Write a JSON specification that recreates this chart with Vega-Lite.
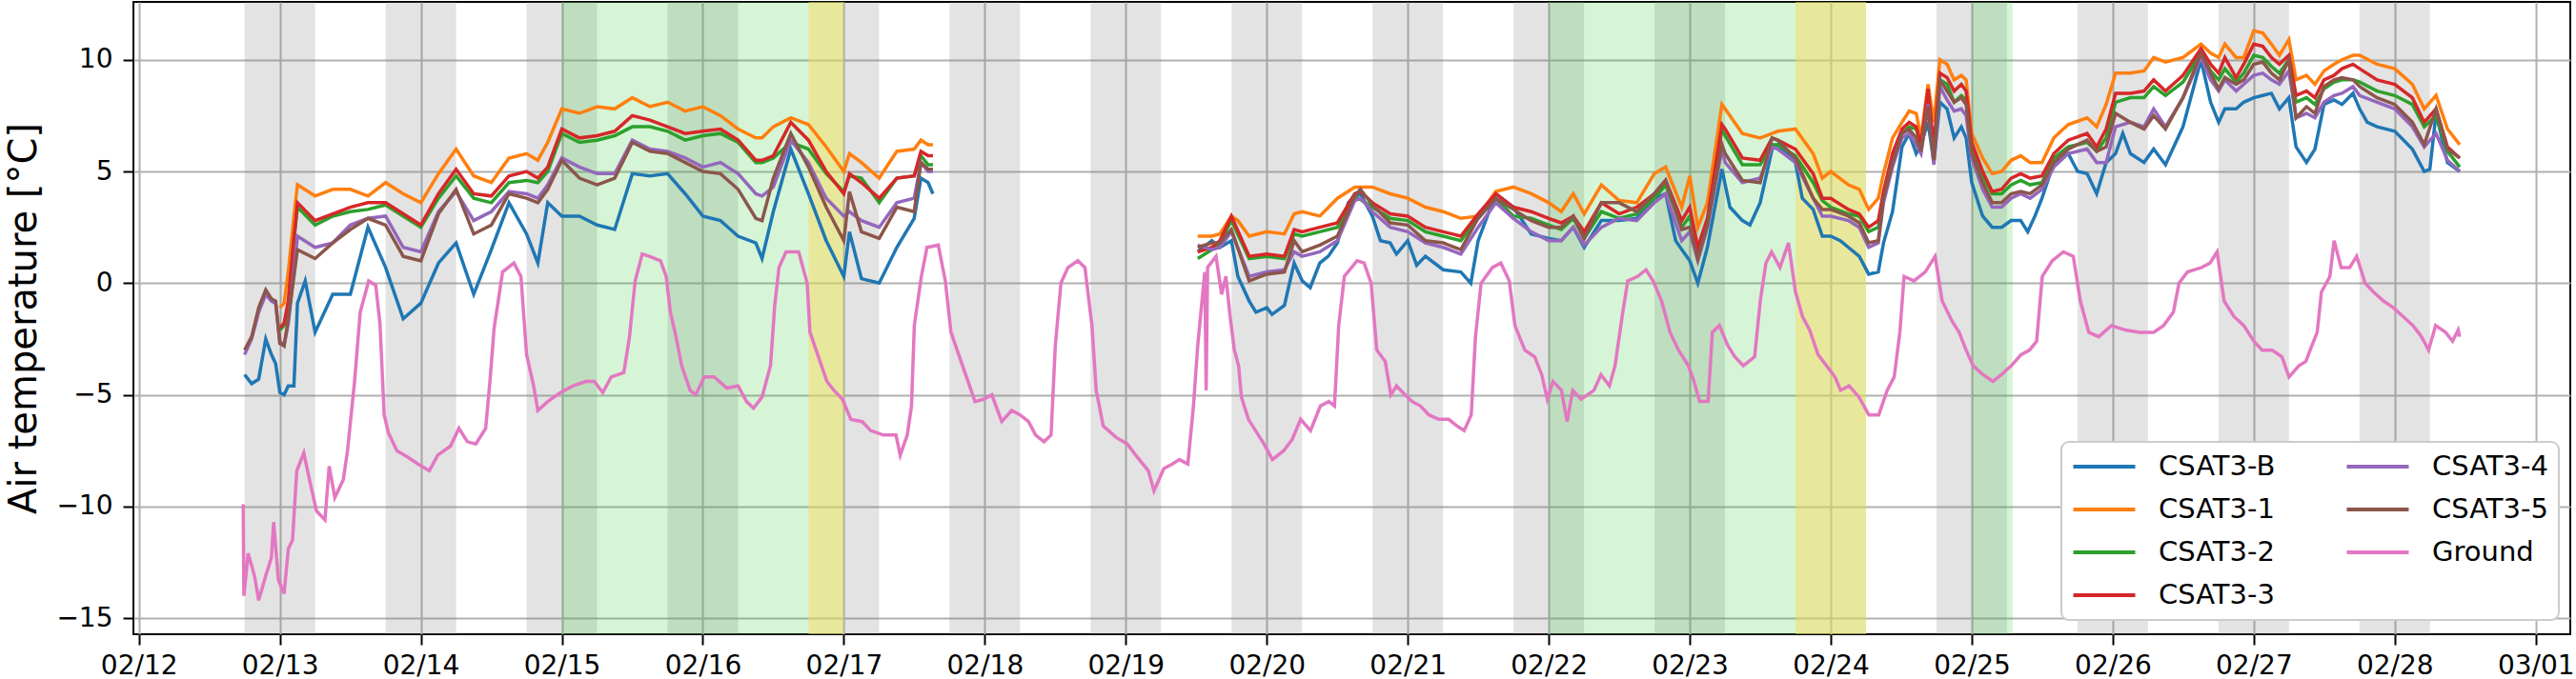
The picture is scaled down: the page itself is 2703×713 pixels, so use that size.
{
  "$schema": "https://vega.github.io/schema/vega-lite/v6.json",
  "width": 2557,
  "height": 664,
  "autosize": {"type": "none"},
  "padding": {"left": 140, "top": 2, "right": 6, "bottom": 47},
  "background": "white",
  "config": {
    "font": "DejaVu Sans",
    "view": {"stroke": "black", "strokeWidth": 2},
    "mark": {"invalid": "filter"},
    "axis": {
      "domain": false,
      "grid": true,
      "gridColor": "#b0b0b0",
      "gridWidth": 2,
      "tickColor": "black",
      "tickWidth": 2,
      "tickSize": 11,
      "labelFont": "DejaVu Sans",
      "labelFontSize": 28,
      "labelColor": "black",
      "titleFont": "DejaVu Sans",
      "titleFontSize": 40,
      "titleFontWeight": "normal",
      "titleColor": "black"
    },
    "legend": {
      "orient": "none",
      "legendX": 2023,
      "legendY": 462,
      "columns": 2,
      "fillColor": "white",
      "strokeColor": "#cccccc",
      "strokeWidth": 2,
      "cornerRadius": 8,
      "padding": 11,
      "labelFont": "DejaVu Sans",
      "labelFontSize": 29,
      "labelColor": "black",
      "symbolType": "M-2.5,0H2.5",
      "symbolSize": 676,
      "symbolStrokeWidth": 4,
      "symbolOffset": 19,
      "labelOffset": 42,
      "rowPadding": 15,
      "columnPadding": 66
    }
  },
  "datasets": {
    "night": [
      {"t": 12.75, "t2": 13.25}, {"t": 13.75, "t2": 14.25}, {"t": 14.75, "t2": 15.25}, {"t": 15.75, "t2": 16.25},
      {"t": 16.75, "t2": 17.25}, {"t": 17.75, "t2": 18.25}, {"t": 18.75, "t2": 19.25}, {"t": 19.75, "t2": 20.25},
      {"t": 20.75, "t2": 21.25}, {"t": 21.75, "t2": 22.25}, {"t": 22.75, "t2": 23.25}, {"t": 23.75, "t2": 24.25},
      {"t": 24.75, "t2": 25.25}, {"t": 25.75, "t2": 26.25}, {"t": 26.75, "t2": 27.25}, {"t": 27.75, "t2": 28.25}
    ],
    "green": [
      {"t": 15.0, "t2": 16.75}, {"t": 22.0, "t2": 23.75}, {"t": 25.0, "t2": 25.29}
    ],
    "yellow": [
      {"t": 16.75, "t2": 17.0}, {"t": 23.75, "t2": 24.25}
    ],
    "air": [
      {"t": 12.75, "g": 1, "b": -4.1, "s4": -3.2, "s5": -3.0},
      {"t": 12.8, "g": 1, "b": -4.5, "s4": -2.5, "s5": -2.4},
      {"t": 12.85, "g": 1, "b": -4.3, "s4": -1.3, "s5": -1.1},
      {"t": 12.9, "g": 1, "b": -2.5, "s4": -0.5, "s5": -0.3},
      {"t": 12.94, "g": 1, "b": -3.2, "s4": -0.8, "s5": -0.7},
      {"t": 12.97, "g": 1, "b": -3.6, "s4": -0.9, "s5": -0.8},
      {"t": 13.0, "g": 1, "b": -4.9, "s1": -1.1, "s2": -2.1, "s3": -2.0, "s4": -2.6, "s5": -2.7},
      {"t": 13.03, "g": 1, "b": -5.0, "s1": -0.9, "s2": -1.9, "s3": -1.8, "s4": -2.8, "s5": -2.8},
      {"t": 13.06, "g": 1, "b": -4.6, "s1": 0.5, "s2": -1.0, "s3": -0.8, "s4": -1.8, "s5": -1.6},
      {"t": 13.1, "g": 1, "b": -4.6, "s1": 3.0, "s2": 1.9, "s3": 2.0, "s4": 0.6, "s5": 0.3},
      {"t": 13.125, "g": 1, "b": -0.9, "s1": 4.4, "s2": 3.4, "s3": 3.6, "s4": 2.1, "s5": 1.5},
      {"t": 13.18, "g": 1, "b": 0.1},
      {"t": 13.25, "g": 1, "b": -2.2, "s1": 3.9, "s2": 2.6, "s3": 2.8, "s4": 1.6, "s5": 1.1},
      {"t": 13.375, "g": 1, "b": -0.5, "s1": 4.2, "s2": 3.0, "s3": 3.1, "s4": 1.8, "s5": 1.8},
      {"t": 13.5, "g": 1, "b": -0.5, "s1": 4.2, "s2": 3.2, "s3": 3.4, "s4": 2.6, "s5": 2.4},
      {"t": 13.625, "g": 1, "b": 2.5, "s1": 3.9, "s2": 3.3, "s3": 3.6, "s4": 2.9, "s5": 2.9},
      {"t": 13.75, "g": 1, "b": 0.7, "s1": 4.5, "s2": 3.5, "s3": 3.6, "s4": 3.0, "s5": 2.6},
      {"t": 13.875, "g": 1, "b": -1.6, "s1": 4.0, "s2": 3.0, "s3": 3.1, "s4": 1.6, "s5": 1.2},
      {"t": 14.0, "g": 1, "b": -0.9, "s1": 3.6, "s2": 2.5, "s3": 2.6, "s4": 1.4, "s5": 1.0},
      {"t": 14.125, "g": 1, "b": 0.9, "s1": 4.9, "s2": 3.8, "s3": 4.0, "s4": 3.2, "s5": 3.1},
      {"t": 14.25, "g": 1, "b": 1.8, "s1": 6.0, "s2": 4.8, "s3": 5.1, "s4": 4.1, "s5": 4.2},
      {"t": 14.375, "g": 1, "b": -0.5, "s1": 4.8, "s2": 3.8, "s3": 4.0, "s4": 2.8, "s5": 2.2},
      {"t": 14.5, "g": 1, "b": 1.5, "s1": 4.5, "s2": 3.6, "s3": 3.9, "s4": 3.2, "s5": 2.6},
      {"t": 14.625, "g": 1, "b": 3.6, "s1": 5.6, "s2": 4.5, "s3": 4.8, "s4": 4.1, "s5": 4.0},
      {"t": 14.75, "g": 1, "b": 2.2, "s1": 5.8, "s2": 4.6, "s3": 5.0, "s4": 4.0, "s5": 3.8},
      {"t": 14.83, "g": 1, "b": 0.9, "s1": 5.5, "s2": 4.5, "s3": 4.7, "s4": 3.8, "s5": 3.6},
      {"t": 14.9, "g": 1, "b": 3.6, "s1": 6.3, "s2": 5.0, "s3": 5.2, "s4": 4.4, "s5": 4.2},
      {"t": 15.0, "g": 1, "b": 3.0, "s1": 7.8, "s2": 6.7, "s3": 6.9, "s4": 5.6, "s5": 5.5},
      {"t": 15.125, "g": 1, "b": 3.0, "s1": 7.6, "s2": 6.3, "s3": 6.5, "s4": 5.2, "s5": 4.7},
      {"t": 15.25, "g": 1, "b": 2.6, "s1": 7.9, "s2": 6.4, "s3": 6.6, "s4": 4.9, "s5": 4.4},
      {"t": 15.375, "g": 1, "b": 2.4, "s1": 7.8, "s2": 6.6, "s3": 6.8, "s4": 4.9, "s5": 4.7},
      {"t": 15.5, "g": 1, "b": 4.9, "s1": 8.3, "s2": 7.0, "s3": 7.5, "s4": 6.4, "s5": 6.3},
      {"t": 15.625, "g": 1, "b": 4.8, "s1": 7.9, "s2": 7.0, "s3": 7.3, "s4": 6.0, "s5": 5.9},
      {"t": 15.75, "g": 1, "b": 4.9, "s1": 8.1, "s2": 6.8, "s3": 7.0, "s4": 5.9, "s5": 5.8},
      {"t": 15.875, "g": 1, "b": 4.0, "s1": 7.7, "s2": 6.4, "s3": 6.7, "s4": 5.6, "s5": 5.4},
      {"t": 16.0, "g": 1, "b": 3.0, "s1": 7.9, "s2": 6.6, "s3": 6.8, "s4": 5.2, "s5": 5.0},
      {"t": 16.125, "g": 1, "b": 2.8, "s1": 7.5, "s2": 6.7, "s3": 6.9, "s4": 5.4, "s5": 4.9},
      {"t": 16.25, "g": 1, "b": 2.1, "s1": 6.9, "s2": 6.3, "s3": 6.4, "s4": 4.9, "s5": 4.2},
      {"t": 16.376, "g": 1, "b": 1.8, "s1": 6.5, "s2": 5.4, "s3": 5.5, "s4": 4.0, "s5": 2.9},
      {"t": 16.42, "g": 1, "b": 1.1, "s1": 6.5, "s2": 5.4, "s3": 5.5, "s4": 3.9, "s5": 2.8},
      {"t": 16.5, "g": 1, "b": 3.2, "s1": 7.0, "s2": 5.6, "s3": 5.7, "s4": 4.3, "s5": 4.7},
      {"t": 16.624, "g": 1, "b": 6.0, "s1": 7.4, "s2": 6.3, "s3": 7.2, "s4": 6.4, "s5": 6.7},
      {"t": 16.749, "g": 1, "b": 4.0, "s1": 7.1, "s2": 6.0, "s3": 6.4, "s4": 5.4, "s5": 5.2},
      {"t": 16.875, "g": 1, "b": 1.9, "s1": 6.1, "s2": 4.9, "s3": 5.0, "s4": 3.8, "s5": 3.4},
      {"t": 17.0, "g": 1, "b": 0.3, "s1": 5.0, "s2": 4.1, "s3": 4.0, "s4": 3.0, "s5": 1.9},
      {"t": 17.04, "g": 1, "b": 2.3, "s1": 5.8, "s2": 4.8, "s3": 4.9, "s4": 3.2, "s5": 4.1},
      {"t": 17.125, "g": 1, "b": 0.2, "s1": 5.4, "s2": 4.7, "s3": 4.5, "s4": 2.8, "s5": 2.3},
      {"t": 17.251, "g": 1, "b": 0.0, "s1": 4.7, "s2": 3.6, "s3": 3.8, "s4": 2.5, "s5": 2.0},
      {"t": 17.376, "g": 1, "b": 1.6, "s1": 5.9, "s2": 4.7, "s3": 4.7, "s4": 3.6, "s5": 3.4},
      {"t": 17.499, "g": 1, "b": 2.9, "s1": 6.0, "s2": 4.8, "s3": 4.8, "s4": 3.8, "s5": 3.2},
      {"t": 17.547, "g": 1, "b": 4.7, "s1": 6.4, "s2": 5.7, "s3": 5.9, "s4": 5.4, "s5": 5.4},
      {"t": 17.598, "g": 1, "b": 4.5, "s1": 6.2, "s2": 5.3, "s3": 5.7, "s4": 5.0, "s5": 5.1},
      {"t": 17.632, "g": 1, "b": 4.0, "s1": 6.2, "s2": 5.3, "s3": 5.7, "s4": 5.0, "s5": 5.1},
      {"t": 19.51, "g": 2, "b": 1.4, "s1": 2.1, "s2": 1.1, "s3": 1.4, "s4": 1.7, "s5": 1.6},
      {"t": 19.61, "g": 2, "b": 1.9, "s1": 2.1, "s2": 1.5, "s3": 1.6, "s4": 1.5, "s5": 1.8},
      {"t": 19.667, "g": 2, "b": 1.6, "s1": 2.2, "s2": 1.8, "s3": 1.9, "s4": 1.6, "s5": 1.8},
      {"t": 19.749, "g": 2, "b": 1.9, "s1": 3.0, "s2": 2.8, "s3": 3.0, "s4": 2.3, "s5": 2.4},
      {"t": 19.795, "g": 2, "b": 0.3, "s1": 2.8},
      {"t": 19.875, "g": 2, "b": -0.8, "s1": 2.1, "s2": 1.1, "s3": 1.2, "s4": 0.3, "s5": 0.1},
      {"t": 19.923, "g": 2, "b": -1.3},
      {"t": 20.0, "g": 2, "b": -1.1, "s1": 2.3, "s2": 1.2, "s3": 1.3, "s4": 0.5, "s5": 0.4},
      {"t": 20.037, "g": 2, "b": -1.4},
      {"t": 20.125, "g": 2, "b": -1.0, "s1": 2.2, "s2": 1.1, "s3": 1.2, "s4": 0.6, "s5": 0.5},
      {"t": 20.194, "g": 2, "b": 0.9, "s1": 3.1, "s2": 2.2, "s3": 2.4, "s4": 1.4, "s5": 1.9},
      {"t": 20.251, "g": 2, "b": 0.1, "s1": 3.2, "s2": 2.1, "s3": 2.3, "s4": 1.2, "s5": 1.4},
      {"t": 20.308, "g": 2, "b": -0.2},
      {"t": 20.376, "g": 2, "b": 0.9, "s1": 3.0, "s2": 2.3, "s3": 2.5, "s4": 1.4, "s5": 1.7},
      {"t": 20.436, "g": 2, "b": 1.2},
      {"t": 20.501, "g": 2, "b": 1.8, "s1": 3.8, "s2": 2.5, "s3": 2.7, "s4": 1.9, "s5": 2.1},
      {"t": 20.578, "g": 2, "b": 3.6},
      {"t": 20.624, "g": 2, "b": 3.9, "s1": 4.3, "s2": 3.9, "s3": 4.0, "s4": 3.7, "s5": 3.9},
      {"t": 20.664, "g": 2, "b": 4.0, "s3": 4.1, "s4": 3.8, "s5": 4.2},
      {"t": 20.749, "g": 2, "b": 3.0, "s1": 4.3, "s2": 3.4, "s3": 3.6, "s4": 3.2, "s5": 3.5},
      {"t": 20.806, "g": 2, "b": 1.9},
      {"t": 20.875, "g": 2, "b": 1.8, "s1": 4.0, "s2": 2.9, "s3": 3.1, "s4": 2.5, "s5": 2.7},
      {"t": 20.92, "g": 2, "b": 1.3},
      {"t": 21.0, "g": 2, "b": 1.9, "s1": 3.8, "s2": 2.8, "s3": 3.0, "s4": 2.3, "s5": 2.6},
      {"t": 21.063, "g": 2, "b": 0.8},
      {"t": 21.125, "g": 2, "b": 1.2, "s1": 3.4, "s2": 2.3, "s3": 2.5, "s4": 1.8, "s5": 1.9},
      {"t": 21.251, "g": 2, "b": 0.6, "s1": 3.2, "s2": 2.1, "s3": 2.3, "s4": 1.6, "s5": 1.8},
      {"t": 21.376, "g": 2, "b": 0.5, "s1": 2.9, "s2": 1.9, "s3": 2.1, "s4": 1.3, "s5": 1.5},
      {"t": 21.447, "g": 2, "b": 0.0},
      {"t": 21.499, "g": 2, "b": 1.9, "s1": 3.0, "s2": 2.9, "s3": 3.1, "s4": 2.5, "s5": 2.9},
      {"t": 21.624, "g": 2, "b": 4.0, "s1": 4.1, "s2": 3.8, "s3": 4.0, "s4": 3.6, "s5": 3.8},
      {"t": 21.749, "g": 2, "b": 3.4, "s1": 4.3, "s2": 3.0, "s3": 3.4, "s4": 2.9, "s5": 3.3},
      {"t": 21.875, "g": 2, "b": 2.2, "s1": 4.0, "s2": 2.9, "s3": 3.2, "s4": 2.3, "s5": 2.8},
      {"t": 22.0, "g": 2, "b": 2.0, "s1": 3.6, "s2": 2.6, "s3": 2.9, "s4": 1.9, "s5": 2.5},
      {"t": 22.088, "g": 2, "b": 1.9, "s1": 3.2, "s2": 2.4, "s3": 2.7, "s4": 1.9, "s5": 2.5},
      {"t": 22.174, "g": 2, "b": 2.5, "s1": 4.0, "s2": 2.9, "s3": 3.0, "s4": 2.5, "s5": 3.0},
      {"t": 22.251, "g": 2, "b": 1.6, "s1": 3.1, "s2": 2.0, "s3": 2.3, "s4": 1.7, "s5": 2.0},
      {"t": 22.373, "g": 2, "b": 2.8, "s1": 4.4, "s2": 3.2, "s3": 3.6, "s4": 2.5, "s5": 3.6},
      {"t": 22.499, "g": 2, "b": 2.8, "s1": 3.7, "s2": 2.9, "s3": 3.1, "s4": 2.9, "s5": 3.6},
      {"t": 22.624, "g": 2, "b": 2.9, "s1": 3.6, "s2": 3.1, "s3": 3.4, "s4": 2.8, "s5": 3.2},
      {"t": 22.749, "g": 2, "b": 3.8, "s1": 4.9, "s2": 3.8, "s3": 4.0, "s4": 3.6, "s5": 4.0},
      {"t": 22.829, "g": 2, "b": 4.0, "s1": 5.2, "s2": 4.4, "s3": 4.6, "s4": 4.0, "s5": 4.6},
      {"t": 22.9, "g": 2, "b": 1.9},
      {"t": 22.943, "g": 2, "b": 1.5, "s1": 3.4, "s2": 2.5, "s3": 2.8, "s4": 1.9, "s5": 2.4},
      {"t": 23.0, "g": 2, "b": 1.0, "s1": 4.8, "s2": 3.0, "s3": 3.4, "s4": 2.3, "s5": 2.5},
      {"t": 23.057, "g": 2, "b": 0.0, "s1": 2.5, "s2": 1.4, "s3": 1.6, "s4": 1.0, "s5": 1.1},
      {"t": 23.125, "g": 2, "b": 1.6, "s1": 3.6, "s2": 2.7, "s3": 2.9, "s4": 2.5, "s5": 2.6},
      {"t": 23.228, "g": 2, "b": 5.1, "s1": 8.0, "s2": 6.9, "s3": 7.1, "s4": 6.0, "s5": 6.2},
      {"t": 23.251, "g": 2, "s1": 7.8, "s2": 6.6, "s3": 6.9, "s4": 5.4, "s5": 5.8},
      {"t": 23.285, "g": 2, "b": 3.4},
      {"t": 23.373, "g": 2, "b": 2.8, "s1": 6.7, "s2": 5.3, "s3": 5.6, "s4": 4.5, "s5": 4.6},
      {"t": 23.427, "g": 2, "b": 2.6},
      {"t": 23.499, "g": 2, "b": 3.6, "s1": 6.5, "s2": 5.3, "s3": 5.5, "s4": 4.7, "s5": 4.5},
      {"t": 23.584, "g": 2, "b": 6.0, "s1": 6.7, "s2": 6.2, "s3": 6.5, "s4": 6.1, "s5": 6.5},
      {"t": 23.624, "g": 2, "b": 6.2, "s1": 6.8, "s2": 6.2, "s3": 6.4, "s4": 6.0, "s5": 6.4},
      {"t": 23.749, "g": 2, "b": 5.4, "s1": 6.9, "s2": 5.7, "s3": 6.0, "s4": 5.4, "s5": 5.6},
      {"t": 23.798, "g": 2, "b": 3.8},
      {"t": 23.875, "g": 2, "b": 3.3, "s1": 5.8, "s2": 4.5, "s3": 4.9, "s4": 3.8, "s5": 3.8},
      {"t": 23.94, "g": 2, "b": 2.1, "s1": 4.7, "s2": 3.7, "s3": 3.8, "s4": 3.0, "s5": 3.3},
      {"t": 24.0, "g": 2, "b": 2.1, "s1": 5.0, "s2": 3.4, "s3": 3.8, "s4": 3.0, "s5": 3.3},
      {"t": 24.067, "g": 2, "b": 1.9},
      {"t": 24.125, "g": 2, "b": 1.6, "s1": 4.4, "s2": 3.1, "s3": 3.3, "s4": 2.8, "s5": 3.0},
      {"t": 24.202, "g": 2, "b": 1.2, "s1": 4.2, "s2": 3.0, "s3": 3.1, "s4": 2.5, "s5": 2.7},
      {"t": 24.269, "g": 2, "b": 0.4, "s1": 3.3, "s2": 2.3, "s3": 2.5, "s4": 1.6, "s5": 1.8},
      {"t": 24.337, "g": 2, "b": 0.5, "s1": 3.8, "s2": 2.5, "s3": 2.8, "s4": 1.8, "s5": 1.9},
      {"t": 24.374, "g": 2, "b": 1.8, "s1": 4.9, "s2": 4.0, "s3": 4.1, "s4": 3.6, "s5": 3.8},
      {"t": 24.438, "g": 2, "b": 3.2, "s1": 6.5, "s2": 5.6, "s3": 5.8, "s4": 5.2, "s5": 5.4},
      {"t": 24.505, "g": 2, "b": 6.1, "s1": 7.2, "s2": 6.7, "s3": 6.9, "s4": 6.5, "s5": 6.7},
      {"t": 24.556, "g": 2, "b": 6.7, "s1": 7.7, "s2": 7.0, "s3": 7.2, "s4": 6.7, "s5": 6.9},
      {"t": 24.606, "g": 2, "b": 5.8, "s1": 7.6, "s2": 6.9, "s3": 7.0, "s4": 6.2, "s5": 6.5},
      {"t": 24.64, "g": 2, "b": 6.2, "s1": 6.5, "s2": 6.1, "s3": 6.2, "s4": 5.8, "s5": 5.9},
      {"t": 24.69, "g": 2, "b": 7.2, "s1": 8.9, "s2": 8.5, "s3": 8.7, "s4": 8.0, "s5": 7.9},
      {"t": 24.731, "g": 2, "b": 5.4, "s1": 7.2, "s2": 5.8, "s3": 6.1, "s4": 5.3, "s5": 5.5},
      {"t": 24.774, "g": 2, "b": 8.1, "s1": 10.0, "s2": 9.1, "s3": 9.4, "s4": 8.8, "s5": 9.1},
      {"t": 24.825, "g": 2, "b": 7.8, "s1": 9.8, "s2": 8.9, "s3": 9.2, "s4": 8.2, "s5": 8.6},
      {"t": 24.875, "g": 2, "b": 6.5, "s1": 9.1, "s2": 8.1, "s3": 8.6, "s4": 7.7, "s5": 8.1},
      {"t": 24.926, "g": 2, "b": 7.0, "s1": 9.3, "s2": 8.4, "s3": 8.9, "s4": 7.8, "s5": 8.3},
      {"t": 24.96, "g": 2, "b": 6.5, "s1": 9.1, "s2": 8.2, "s3": 8.6, "s4": 7.5, "s5": 8.0},
      {"t": 25.0, "g": 2, "b": 4.5, "s1": 6.7, "s2": 6.1, "s3": 6.3, "s4": 5.6, "s5": 5.8},
      {"t": 25.077, "g": 2, "b": 3.0, "s1": 5.6, "s2": 4.8, "s3": 5.0, "s4": 4.2, "s5": 4.5},
      {"t": 25.145, "g": 2, "b": 2.5, "s1": 4.9, "s2": 4.0, "s3": 4.1, "s4": 3.4, "s5": 3.6},
      {"t": 25.212, "g": 2, "b": 2.5, "s1": 5.0, "s2": 4.0, "s3": 4.2, "s4": 3.4, "s5": 3.6},
      {"t": 25.279, "g": 2, "b": 2.8, "s1": 5.5, "s2": 4.4, "s3": 4.7, "s4": 3.8, "s5": 4.0},
      {"t": 25.347, "g": 2, "b": 2.8, "s1": 5.7, "s2": 4.6, "s3": 4.9, "s4": 4.0, "s5": 4.1},
      {"t": 25.397, "g": 2, "b": 2.3},
      {"t": 25.414, "g": 2, "s1": 5.4, "s2": 4.4, "s3": 4.7, "s4": 3.8, "s5": 4.0},
      {"t": 25.448, "g": 2, "b": 3.0},
      {"t": 25.498, "g": 2, "b": 3.8, "s1": 5.4, "s2": 4.5, "s3": 4.8, "s4": 4.2, "s5": 4.4},
      {"t": 25.582, "g": 2, "b": 5.4, "s1": 6.5, "s2": 5.6, "s3": 5.8, "s4": 5.2, "s5": 5.4},
      {"t": 25.684, "g": 2, "b": 5.8, "s1": 7.1, "s2": 6.1, "s3": 6.4, "s4": 5.8, "s5": 6.0},
      {"t": 25.751, "g": 2, "b": 5.0},
      {"t": 25.818, "g": 2, "b": 4.9, "s1": 7.4, "s2": 6.3, "s3": 6.7, "s4": 6.0, "s5": 6.4},
      {"t": 25.886, "g": 2, "b": 4.0, "s1": 7.0, "s2": 5.9, "s3": 6.1, "s4": 5.4, "s5": 5.9},
      {"t": 25.953, "g": 2, "b": 5.4, "s1": 8.0, "s2": 6.5, "s3": 6.9, "s4": 5.4, "s5": 6.1},
      {"t": 26.02, "g": 2, "b": 5.8, "s1": 9.4, "s2": 8.1, "s3": 8.5, "s4": 7.0, "s5": 7.6},
      {"t": 26.071, "g": 2, "b": 6.7},
      {"t": 26.125, "g": 2, "b": 5.8, "s1": 9.4, "s2": 8.3, "s3": 8.5, "s4": 7.2, "s5": 7.2},
      {"t": 26.222, "g": 2, "b": 5.4, "s1": 9.5, "s2": 8.3, "s3": 8.6, "s4": 7.0, "s5": 6.9},
      {"t": 26.29, "g": 2, "b": 6.0, "s1": 10.1, "s2": 8.8, "s3": 9.1, "s4": 7.8, "s5": 7.5},
      {"t": 26.374, "g": 2, "b": 5.3, "s1": 9.9, "s2": 8.4, "s3": 8.6, "s4": 7.0, "s5": 6.9},
      {"t": 26.498, "g": 2, "b": 7.0, "s1": 10.1, "s2": 9.0, "s3": 9.3, "s4": 8.3, "s5": 8.3},
      {"t": 26.626, "g": 2, "b": 10.0, "s1": 10.7, "s2": 10.3, "s3": 10.5, "s4": 10.1, "s5": 10.3},
      {"t": 26.694, "g": 2, "b": 8.1, "s1": 10.3, "s2": 9.5, "s3": 9.8, "s4": 9.1, "s5": 9.4},
      {"t": 26.751, "g": 2, "b": 7.2, "s1": 10.1, "s2": 9.1, "s3": 9.4, "s4": 8.6, "s5": 8.7},
      {"t": 26.795, "g": 2, "b": 7.8, "s1": 10.7, "s2": 9.6, "s3": 10.1, "s4": 9.1, "s5": 9.2},
      {"t": 26.875, "g": 2, "b": 7.8, "s1": 10.1, "s2": 9.0, "s3": 9.2, "s4": 8.6, "s5": 8.9},
      {"t": 26.929, "g": 2, "b": 8.1, "s1": 10.1, "s2": 9.4, "s3": 9.8, "s4": 8.9, "s5": 9.1},
      {"t": 27.0, "g": 2, "b": 8.3, "s1": 11.3, "s2": 10.2, "s3": 10.7, "s4": 9.3, "s5": 9.8},
      {"t": 27.064, "g": 2, "b": 8.4, "s1": 11.2, "s2": 10.1, "s3": 10.6, "s4": 9.4, "s5": 9.9},
      {"t": 27.125, "g": 2, "b": 8.5, "s1": 10.7, "s2": 9.7, "s3": 10.1, "s4": 9.1, "s5": 9.4},
      {"t": 27.182, "g": 2, "b": 7.8, "s1": 10.2, "s2": 9.4, "s3": 9.8, "s4": 8.9, "s5": 9.1},
      {"t": 27.249, "g": 2, "b": 8.3, "s1": 10.9, "s2": 10.0, "s3": 10.2, "s4": 9.5, "s5": 10.0},
      {"t": 27.3, "g": 2, "b": 6.1, "s1": 9.1, "s2": 8.1, "s3": 8.4, "s4": 7.4, "s5": 7.4},
      {"t": 27.374, "g": 2, "b": 5.4, "s1": 9.3, "s2": 8.3, "s3": 8.6, "s4": 7.6, "s5": 7.9},
      {"t": 27.434, "g": 2, "b": 6.0, "s1": 8.9, "s2": 8.0, "s3": 8.3, "s4": 7.4, "s5": 7.6},
      {"t": 27.498, "g": 2, "b": 8.0, "s1": 9.5, "s2": 8.7, "s3": 9.1, "s4": 8.1, "s5": 8.8},
      {"t": 27.569, "g": 2, "b": 8.2, "s1": 9.8, "s2": 9.0, "s3": 9.3, "s4": 8.4, "s5": 9.1},
      {"t": 27.626, "g": 2, "b": 8.0, "s1": 10.0, "s2": 9.1, "s3": 9.6, "s4": 8.5, "s5": 9.2},
      {"t": 27.704, "g": 2, "b": 8.5, "s1": 10.2, "s2": 9.1, "s3": 9.8, "s4": 8.8, "s5": 9.1},
      {"t": 27.751, "g": 2, "b": 7.8, "s1": 10.2, "s2": 9.0, "s3": 9.6, "s4": 8.4, "s5": 8.8},
      {"t": 27.805, "g": 2, "b": 7.2},
      {"t": 27.875, "g": 2, "b": 7.0, "s1": 9.8, "s2": 8.6, "s3": 9.1, "s4": 8.1, "s5": 8.3},
      {"t": 28.0, "g": 2, "b": 6.8, "s1": 9.6, "s2": 8.4, "s3": 8.9, "s4": 7.8, "s5": 8.0},
      {"t": 28.125, "g": 2, "b": 6.0, "s1": 8.9, "s2": 8.0, "s3": 8.3, "s4": 7.0, "s5": 7.2},
      {"t": 28.209, "g": 2, "b": 5.0, "s1": 7.8, "s2": 7.0, "s3": 7.2, "s4": 6.1, "s5": 6.2},
      {"t": 28.249, "g": 2, "b": 5.1},
      {"t": 28.293, "g": 2, "b": 7.6, "s1": 8.4, "s2": 7.5, "s3": 7.8, "s4": 6.7, "s5": 7.8},
      {"t": 28.374, "g": 2, "b": 5.4, "s1": 6.9, "s2": 5.9, "s3": 6.1, "s4": 5.5, "s5": 6.0},
      {"t": 28.461, "g": 2, "b": 5.0, "s1": 6.2, "s2": 5.2, "s3": 5.6, "s4": 5.0, "s5": 5.6}
    ],
    "ground": [
      {"t": 12.74, "v": -9.9}, {"t": 12.745, "v": -14.0}, {"t": 12.775, "v": -12.1}, {"t": 12.82, "v": -13.1},
      {"t": 12.85, "v": -14.2}, {"t": 12.9, "v": -13.1}, {"t": 12.94, "v": -12.3}, {"t": 12.956, "v": -10.7},
      {"t": 12.99, "v": -13.3}, {"t": 13.03, "v": -13.9}, {"t": 13.06, "v": -11.9}, {"t": 13.09, "v": -11.5},
      {"t": 13.12, "v": -8.4}, {"t": 13.17, "v": -7.6}, {"t": 13.21, "v": -8.8}, {"t": 13.26, "v": -10.2},
      {"t": 13.32, "v": -10.6}, {"t": 13.35, "v": -8.2}, {"t": 13.39, "v": -9.6}, {"t": 13.45, "v": -8.8},
      {"t": 13.48, "v": -7.5}, {"t": 13.53, "v": -4.4}, {"t": 13.57, "v": -1.3}, {"t": 13.63, "v": 0.1},
      {"t": 13.68, "v": -0.1}, {"t": 13.71, "v": -1.8}, {"t": 13.74, "v": -5.9}, {"t": 13.77, "v": -6.7},
      {"t": 13.83, "v": -7.5}, {"t": 13.91, "v": -7.8}, {"t": 13.98, "v": -8.1}, {"t": 14.06, "v": -8.4},
      {"t": 14.12, "v": -7.7}, {"t": 14.21, "v": -7.3}, {"t": 14.27, "v": -6.5}, {"t": 14.33, "v": -7.1},
      {"t": 14.39, "v": -7.2}, {"t": 14.46, "v": -6.5}, {"t": 14.49, "v": -4.4}, {"t": 14.52, "v": -2.0},
      {"t": 14.58, "v": 0.5}, {"t": 14.66, "v": 0.9}, {"t": 14.71, "v": 0.3}, {"t": 14.75, "v": -3.2},
      {"t": 14.8, "v": -4.6}, {"t": 14.83, "v": -5.7}, {"t": 14.9, "v": -5.3}, {"t": 14.99, "v": -4.9},
      {"t": 15.08, "v": -4.6}, {"t": 15.17, "v": -4.4}, {"t": 15.23, "v": -4.4}, {"t": 15.29, "v": -4.9},
      {"t": 15.35, "v": -4.2}, {"t": 15.44, "v": -4.0}, {"t": 15.48, "v": -2.4}, {"t": 15.52, "v": 0.1},
      {"t": 15.57, "v": 1.3}, {"t": 15.62, "v": 1.2}, {"t": 15.7, "v": 1.0}, {"t": 15.74, "v": 0.3},
      {"t": 15.77, "v": -1.3}, {"t": 15.81, "v": -2.4}, {"t": 15.85, "v": -3.7}, {"t": 15.91, "v": -4.8},
      {"t": 15.95, "v": -5.0}, {"t": 16.01, "v": -4.2}, {"t": 16.08, "v": -4.2}, {"t": 16.17, "v": -4.7},
      {"t": 16.25, "v": -4.6}, {"t": 16.31, "v": -5.3}, {"t": 16.36, "v": -5.6}, {"t": 16.42, "v": -5.1},
      {"t": 16.48, "v": -3.7}, {"t": 16.51, "v": -1.0}, {"t": 16.54, "v": 0.7}, {"t": 16.59, "v": 1.4},
      {"t": 16.68, "v": 1.4}, {"t": 16.74, "v": 0.0}, {"t": 16.76, "v": -2.2}, {"t": 16.82, "v": -3.3},
      {"t": 16.88, "v": -4.4}, {"t": 16.93, "v": -4.8}, {"t": 16.99, "v": -5.2}, {"t": 17.05, "v": -6.1},
      {"t": 17.13, "v": -6.2}, {"t": 17.19, "v": -6.6}, {"t": 17.28, "v": -6.8}, {"t": 17.37, "v": -6.8},
      {"t": 17.4, "v": -7.7}, {"t": 17.45, "v": -6.8}, {"t": 17.48, "v": -5.5}, {"t": 17.5, "v": -1.9},
      {"t": 17.55, "v": 0.3}, {"t": 17.59, "v": 1.6}, {"t": 17.67, "v": 1.7}, {"t": 17.72, "v": 0.1},
      {"t": 17.76, "v": -2.2}, {"t": 17.82, "v": -3.3}, {"t": 17.87, "v": -4.2}, {"t": 17.93, "v": -5.3},
      {"t": 17.99, "v": -5.2}, {"t": 18.05, "v": -5.0}, {"t": 18.12, "v": -6.2}, {"t": 18.19, "v": -5.7},
      {"t": 18.25, "v": -5.9}, {"t": 18.31, "v": -6.2}, {"t": 18.36, "v": -6.8}, {"t": 18.42, "v": -7.1},
      {"t": 18.47, "v": -6.8}, {"t": 18.5, "v": -2.8}, {"t": 18.54, "v": 0.0}, {"t": 18.59, "v": 0.7},
      {"t": 18.66, "v": 1.0}, {"t": 18.71, "v": 0.7}, {"t": 18.76, "v": -1.9}, {"t": 18.79, "v": -4.8},
      {"t": 18.84, "v": -6.4}, {"t": 18.93, "v": -6.9}, {"t": 19.01, "v": -7.2}, {"t": 19.07, "v": -7.7},
      {"t": 19.16, "v": -8.4}, {"t": 19.2, "v": -9.3}, {"t": 19.27, "v": -8.3}, {"t": 19.33, "v": -8.1},
      {"t": 19.38, "v": -7.9}, {"t": 19.44, "v": -8.1}, {"t": 19.48, "v": -5.5}, {"t": 19.51, "v": -2.8},
      {"t": 19.56, "v": 0.5}, {"t": 19.57, "v": -4.8}, {"t": 19.58, "v": 0.7}, {"t": 19.64, "v": 1.2},
      {"t": 19.68, "v": -0.5}, {"t": 19.71, "v": 0.3}, {"t": 19.74, "v": -1.5}, {"t": 19.77, "v": -3.0},
      {"t": 19.8, "v": -3.7}, {"t": 19.82, "v": -5.1}, {"t": 19.87, "v": -6.1}, {"t": 19.92, "v": -6.6},
      {"t": 19.98, "v": -7.2}, {"t": 20.04, "v": -7.9}, {"t": 20.12, "v": -7.5}, {"t": 20.18, "v": -7.0},
      {"t": 20.24, "v": -6.1}, {"t": 20.31, "v": -6.6}, {"t": 20.38, "v": -5.5}, {"t": 20.44, "v": -5.3},
      {"t": 20.48, "v": -5.5}, {"t": 20.51, "v": -1.9}, {"t": 20.55, "v": 0.3}, {"t": 20.64, "v": 1.0},
      {"t": 20.69, "v": 0.9}, {"t": 20.74, "v": 0.0}, {"t": 20.78, "v": -3.0}, {"t": 20.84, "v": -3.5},
      {"t": 20.88, "v": -5.0}, {"t": 20.92, "v": -4.6}, {"t": 20.98, "v": -5.0}, {"t": 21.03, "v": -5.3},
      {"t": 21.09, "v": -5.5}, {"t": 21.15, "v": -5.9}, {"t": 21.22, "v": -6.1}, {"t": 21.29, "v": -6.1},
      {"t": 21.35, "v": -6.4}, {"t": 21.4, "v": -6.6}, {"t": 21.45, "v": -5.9}, {"t": 21.48, "v": -2.4},
      {"t": 21.52, "v": 0.0}, {"t": 21.6, "v": 0.7}, {"t": 21.66, "v": 0.9}, {"t": 21.72, "v": 0.1},
      {"t": 21.76, "v": -1.9}, {"t": 21.83, "v": -3.0}, {"t": 21.9, "v": -3.3}, {"t": 21.95, "v": -4.1},
      {"t": 21.99, "v": -5.2}, {"t": 22.03, "v": -4.4}, {"t": 22.09, "v": -4.8}, {"t": 22.13, "v": -6.2},
      {"t": 22.17, "v": -4.8}, {"t": 22.23, "v": -5.2}, {"t": 22.32, "v": -4.8}, {"t": 22.37, "v": -4.1},
      {"t": 22.43, "v": -4.6}, {"t": 22.47, "v": -3.7}, {"t": 22.52, "v": -1.5}, {"t": 22.56, "v": 0.1},
      {"t": 22.63, "v": 0.3}, {"t": 22.69, "v": 0.6}, {"t": 22.74, "v": 0.1}, {"t": 22.8, "v": -0.8},
      {"t": 22.86, "v": -2.2}, {"t": 22.92, "v": -3.0}, {"t": 22.99, "v": -3.7}, {"t": 23.03, "v": -4.4},
      {"t": 23.07, "v": -5.3}, {"t": 23.13, "v": -5.3}, {"t": 23.16, "v": -2.2}, {"t": 23.21, "v": -1.9},
      {"t": 23.27, "v": -2.8}, {"t": 23.32, "v": -3.3}, {"t": 23.38, "v": -3.7}, {"t": 23.46, "v": -3.3},
      {"t": 23.5, "v": -0.8}, {"t": 23.54, "v": 0.9}, {"t": 23.58, "v": 1.4}, {"t": 23.64, "v": 0.7},
      {"t": 23.7, "v": 1.8}, {"t": 23.75, "v": -0.4}, {"t": 23.8, "v": -1.5}, {"t": 23.85, "v": -2.1},
      {"t": 23.91, "v": -3.2}, {"t": 23.97, "v": -3.7}, {"t": 24.03, "v": -4.2}, {"t": 24.07, "v": -4.8},
      {"t": 24.13, "v": -4.6}, {"t": 24.2, "v": -5.1}, {"t": 24.27, "v": -5.9}, {"t": 24.34, "v": -5.9},
      {"t": 24.4, "v": -4.8}, {"t": 24.45, "v": -4.2}, {"t": 24.49, "v": -2.2}, {"t": 24.52, "v": 0.3},
      {"t": 24.59, "v": 0.1}, {"t": 24.67, "v": 0.5}, {"t": 24.74, "v": 1.2}, {"t": 24.79, "v": -0.8},
      {"t": 24.86, "v": -1.7}, {"t": 24.91, "v": -2.2}, {"t": 24.96, "v": -3.0}, {"t": 25.01, "v": -3.7},
      {"t": 25.08, "v": -4.1}, {"t": 25.15, "v": -4.4}, {"t": 25.21, "v": -4.1}, {"t": 25.28, "v": -3.7},
      {"t": 25.35, "v": -3.2}, {"t": 25.41, "v": -3.0}, {"t": 25.46, "v": -2.6}, {"t": 25.5, "v": 0.3},
      {"t": 25.57, "v": 1.0}, {"t": 25.65, "v": 1.4}, {"t": 25.72, "v": 1.2}, {"t": 25.77, "v": -0.8},
      {"t": 25.83, "v": -2.2}, {"t": 25.9, "v": -2.4}, {"t": 25.99, "v": -1.9}, {"t": 26.09, "v": -2.1},
      {"t": 26.19, "v": -2.2}, {"t": 26.29, "v": -2.2}, {"t": 26.36, "v": -1.9}, {"t": 26.43, "v": -1.3},
      {"t": 26.47, "v": 0.0}, {"t": 26.53, "v": 0.5}, {"t": 26.63, "v": 0.7}, {"t": 26.69, "v": 0.9},
      {"t": 26.74, "v": 1.4}, {"t": 26.79, "v": -0.8}, {"t": 26.86, "v": -1.5}, {"t": 26.93, "v": -1.9},
      {"t": 27.0, "v": -2.6}, {"t": 27.06, "v": -3.0}, {"t": 27.13, "v": -3.0}, {"t": 27.2, "v": -3.3},
      {"t": 27.25, "v": -4.2}, {"t": 27.32, "v": -3.7}, {"t": 27.37, "v": -3.5}, {"t": 27.4, "v": -3.0},
      {"t": 27.45, "v": -2.2}, {"t": 27.48, "v": -0.4}, {"t": 27.54, "v": 0.3}, {"t": 27.57, "v": 1.9},
      {"t": 27.62, "v": 0.7}, {"t": 27.68, "v": 0.7}, {"t": 27.73, "v": 1.2}, {"t": 27.79, "v": 0.0},
      {"t": 27.85, "v": -0.4}, {"t": 27.92, "v": -0.8}, {"t": 27.99, "v": -1.1}, {"t": 28.06, "v": -1.5},
      {"t": 28.13, "v": -1.9}, {"t": 28.19, "v": -2.4}, {"t": 28.24, "v": -3.0}, {"t": 28.29, "v": -1.9},
      {"t": 28.36, "v": -2.2}, {"t": 28.41, "v": -2.6}, {"t": 28.45, "v": -2.1}, {"t": 28.46, "v": -2.4}
    ]
  },
  "encoding": {
    "x": {
      "field": "t",
      "type": "quantitative",
      "title": null,
      "scale": {"domain": [11.9615, 29.245], "nice": false, "zero": false},
      "axis": {
        "values": [12, 13, 14, 15, 16, 17, 18, 19, 20, 21, 22, 23, 24, 25, 26, 27, 28, 29],
        "labelExpr": "datum.value >= 29 ? '03/01' : '02/' + datum.value",
        "labelPadding": 8
      }
    }
  },
  "layer": [
    {
      "data": {"name": "night"},
      "mark": {"type": "rect", "color": "#808080", "opacity": 0.22},
      "encoding": {"x2": {"field": "t2"}}
    },
    {
      "data": {"name": "green"},
      "mark": {"type": "rect", "color": "#32cd32", "opacity": 0.2},
      "encoding": {"x2": {"field": "t2"}}
    },
    {
      "data": {"name": "yellow"},
      "mark": {"type": "rect", "color": "#eded55", "opacity": 0.5},
      "encoding": {"x2": {"field": "t2"}}
    },
    {
      "data": {"name": "air"},
      "mark": {"type": "line", "strokeWidth": 3.5},
      "encoding": {
        "y": {
          "field": "b",
          "type": "quantitative",
          "title": "Air temperature [°C]",
          "scale": {"domain": [-15.72, 12.59], "nice": false, "zero": false},
          "axis": {"values": [-15, -10, -5, 0, 5, 10], "labelPadding": 11, "titlePadding": 13}
        },
        "color": {
          "datum": "CSAT3-B",
          "title": null,
          "scale": {
            "domain": ["CSAT3-B", "CSAT3-1", "CSAT3-2", "CSAT3-3", "CSAT3-4", "CSAT3-5", "Ground"],
            "range": ["#1f77b4", "#ff7f0e", "#2ca02c", "#d62728", "#9467bd", "#8c564b", "#e377c2"]
          }
        },
        "detail": {"field": "g"}
      }
    },
    {
      "data": {"name": "air"},
      "mark": {"type": "line", "strokeWidth": 3.5},
      "encoding": {
        "y": {"field": "s1", "type": "quantitative", "title": "Air temperature [°C]"},
        "color": {"datum": "CSAT3-1", "title": null},
        "detail": {"field": "g"}
      }
    },
    {
      "data": {"name": "air"},
      "mark": {"type": "line", "strokeWidth": 3.5},
      "encoding": {
        "y": {"field": "s2", "type": "quantitative", "title": "Air temperature [°C]"},
        "color": {"datum": "CSAT3-2", "title": null},
        "detail": {"field": "g"}
      }
    },
    {
      "data": {"name": "air"},
      "mark": {"type": "line", "strokeWidth": 3.5},
      "encoding": {
        "y": {"field": "s3", "type": "quantitative", "title": "Air temperature [°C]"},
        "color": {"datum": "CSAT3-3", "title": null},
        "detail": {"field": "g"}
      }
    },
    {
      "data": {"name": "air"},
      "mark": {"type": "line", "strokeWidth": 3.5},
      "encoding": {
        "y": {"field": "s4", "type": "quantitative", "title": "Air temperature [°C]"},
        "color": {"datum": "CSAT3-4", "title": null},
        "detail": {"field": "g"}
      }
    },
    {
      "data": {"name": "air"},
      "mark": {"type": "line", "strokeWidth": 3.5},
      "encoding": {
        "y": {"field": "s5", "type": "quantitative", "title": "Air temperature [°C]"},
        "color": {"datum": "CSAT3-5", "title": null},
        "detail": {"field": "g"}
      }
    },
    {
      "data": {"name": "ground"},
      "mark": {"type": "line", "strokeWidth": 3.5},
      "encoding": {
        "y": {"field": "v", "type": "quantitative", "title": "Air temperature [°C]"},
        "color": {"datum": "Ground", "title": null}
      }
    }
  ]
}
